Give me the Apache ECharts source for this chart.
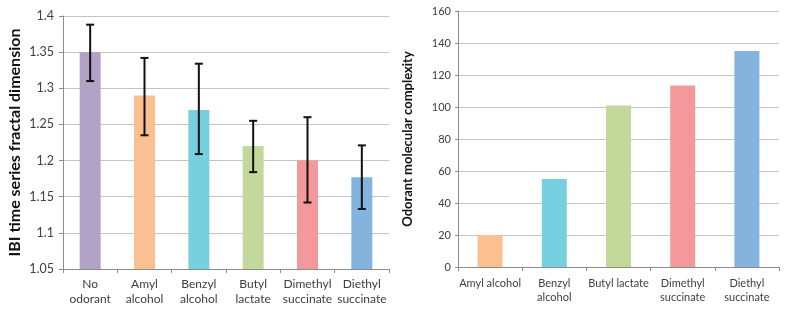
<!DOCTYPE html>
<html>
<head>
<meta charset="utf-8">
<style>
  html, body { margin: 0; padding: 0; background: #fff; }
  #chart { width: 787px; height: 315px; }
</style>
<script src="https://cdn.jsdelivr.net/npm/echarts@6/dist/echarts.min.js"></script>
</head>
<body>
<div id="chart"></div>
<script>
// left panel: fractal dimension with error bars
var fracCats = ['No\nodorant', 'Amyl\nalcohol', 'Benzyl\nalcohol', 'Butyl\nlactate', 'Dimethyl\nsuccinate', 'Diethyl\nsuccinate'];
var fracValues = [1.35, 1.29, 1.27, 1.22, 1.2, 1.177];
var fracLow = [1.31, 1.235, 1.209, 1.184, 1.142, 1.133];
var fracHigh = [1.388, 1.342, 1.334, 1.255, 1.26, 1.221];
var fracColors = ['#B3A2C7', '#FBC08F', '#76D0E0', '#C3D99B', '#F3989B', '#84B4DE'];

// right panel: molecular complexity
var cxCats = ['Amyl alcohol', 'Benzyl\nalcohol', 'Butyl lactate', 'Dimethyl\nsuccinate', 'Diethyl\nsuccinate'];
var cxValues = [20, 55, 101, 113.5, 135];
var cxColors = ['#FBC08F', '#76D0E0', '#C3D99B', '#F3989B', '#84B4DE'];

var font = 'Lato, "Open Sans", sans-serif';
var axisGray = '#8C8C8C';
var gridGray = '#C4C4C4';
var textGray = '#404040';

function errorBars(params, api) {
  var x = api.value(0);
  var lo = api.coord([x, api.value(1)]);
  var hi = api.coord([x, api.value(2)]);
  var cap = 4;
  var style = { stroke: '#111', lineWidth: 2 };
  return {
    type: 'group',
    children: [
      { type: 'line', shape: { x1: hi[0], y1: hi[1], x2: lo[0], y2: lo[1] }, style: style },
      { type: 'line', shape: { x1: hi[0] - cap, y1: hi[1], x2: hi[0] + cap, y2: hi[1] }, style: style },
      { type: 'line', shape: { x1: lo[0] - cap, y1: lo[1], x2: lo[0] + cap, y2: lo[1] }, style: style }
    ]
  };
}

var chart = echarts.init(document.getElementById('chart'));
chart.setOption({
  animation: false,
  textStyle: { fontFamily: font },
  grid: [
    { left: 63, top: 16, width: 326, bottom: 46 },
    { left: 458, top: 11, right: 8, bottom: 48 }
  ],
  xAxis: [
    {
      gridIndex: 0, type: 'category', data: fracCats,
      axisLine: { lineStyle: { color: axisGray } },
      axisTick: { show: true, length: 4, lineStyle: { color: axisGray } },
      axisLabel: { color: textGray, fontSize: 12, lineHeight: 15, margin: 8, interval: 0 }
    },
    {
      gridIndex: 1, type: 'category', data: cxCats,
      axisLine: { lineStyle: { color: axisGray } },
      axisTick: { show: true, length: 4, lineStyle: { color: axisGray } },
      axisLabel: { color: textGray, fontSize: 11, lineHeight: 14, margin: 9, interval: 0 }
    }
  ],
  yAxis: [
    {
      gridIndex: 0, type: 'value', min: 1.05, max: 1.4, interval: 0.05,
      name: 'IBI time series fractal dimension', nameLocation: 'middle', nameGap: 40,
      nameTextStyle: { fontSize: 16, fontWeight: 'bold', color: '#111' },
      axisLine: { show: true, lineStyle: { color: axisGray } },
      axisTick: { show: true, length: 4, lineStyle: { color: axisGray } },
      splitLine: { lineStyle: { color: gridGray } },
      axisLabel: {
        color: textGray, fontSize: 12.5, margin: 9,
        formatter: function (v) { return String(Math.round(v * 100) / 100); }
      }
    },
    {
      gridIndex: 1, type: 'value', min: 0, max: 160, interval: 20,
      name: 'Odorant molecular complexity', nameLocation: 'middle', nameGap: 44,
      nameTextStyle: { fontSize: 13, fontWeight: 'bold', color: '#111' },
      axisLine: { show: true, lineStyle: { color: axisGray } },
      axisTick: { show: true, length: 3, lineStyle: { color: axisGray } },
      splitLine: { lineStyle: { color: gridGray } },
      axisLabel: { color: textGray, fontSize: 11, margin: 7 }
    }
  ],
  series: [
    {
      type: 'bar', xAxisIndex: 0, yAxisIndex: 0, barWidth: 21,
      data: fracValues.map(function (v, i) { return { value: v, itemStyle: { color: fracColors[i] } }; })
    },
    {
      type: 'custom', xAxisIndex: 0, yAxisIndex: 0, renderItem: errorBars, z: 10,
      data: fracLow.map(function (lo, i) { return [i, lo, fracHigh[i]]; })
    },
    {
      type: 'bar', xAxisIndex: 1, yAxisIndex: 1, barWidth: 25,
      data: cxValues.map(function (v, i) { return { value: v, itemStyle: { color: cxColors[i] } }; })
    }
  ]
});
</script>
</body>
</html>
